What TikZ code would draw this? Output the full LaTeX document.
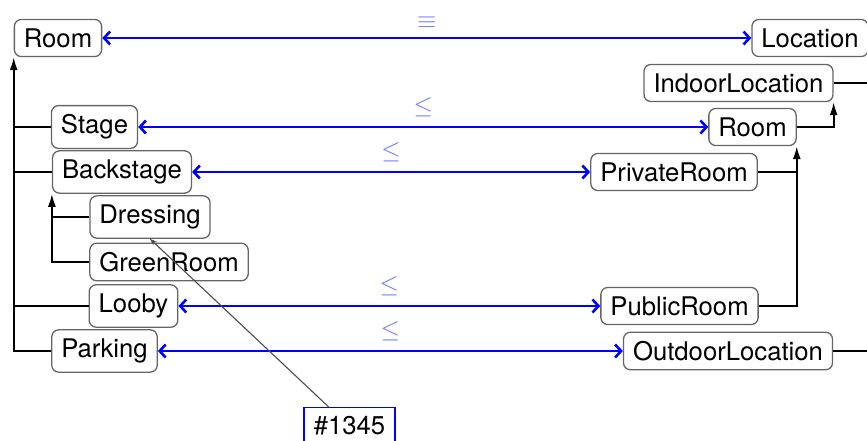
\documentclass[tikz,border=0pt]{standalone}
\usepackage{fontspec}
\setmainfont{TeX Gyre Heros}
\usetikzlibrary{arrows.meta}
\tikzstyle{concept} = [rectangle, rounded corners=7pt, inner xsep=9.5pt, inner ysep=9pt, text centered, draw=black!60, line width=1.3pt, fill=white]
\tikzstyle{ticket} = [rectangle, inner xsep=10pt, inner ysep=9pt, text centered, draw=blue, text=black, line width=1.7pt, fill=white]
\tikzstyle{equiv} = [blue, line width=2.6pt, arrows={Straight Barb[length=6pt,width=13pt]-Straight Barb[length=6pt,width=13pt]}]
\tikzstyle{rel} = [midway, above=5pt, text=blue!55]
\tikzstyle{isa} = [line width=1.8pt, arrows={-Latex[length=13pt,width=8pt]}]
\tikzstyle{branch} = [line width=1.8pt]
\tikzstyle{pointer} = [black!70, line width=1.1pt, arrows={-Stealth[length=7pt,width=5pt]}]

\begin{document}
\begin{tikzpicture}[x=1pt, y=-1pt, node distance=45pt, font=\fontsize{25.7}{30}\selectfont]
    \useasboundingbox (0,0) rectangle (867,440);

    % left hierarchy
    \node (room) [concept] at (58,38) {Room};
    \node (stage) [concept, below of=room, yshift=-44pt, xshift=36.5pt] {Stage};
    \node (backstage) [concept, below of=stage, xshift=27.5pt] {Backstage};
    \node (dressing) [concept, below of=backstage, xshift=28pt] {Dressing};
    \node (greenroom) [concept, below of=dressing, xshift=19pt] {GreenRoom};
    \node (looby) [concept, below of=greenroom, xshift=-35.5pt, yshift=1pt] {Looby};
    \node (parking) [concept, below of=looby, xshift=-29pt] {Parking};

    % right hierarchy
    \node (location) [concept, right of=room, xshift=707pt] {Location};
    \node (indoor) [concept, below of=location, xshift=-71.5pt] {IndoorLocation};
    \node (room2) [concept, below of=indoor, xshift=14pt, yshift=1pt] {Room};
    \node (privateroom) [concept, below of=room2, xshift=-78.5pt] {PrivateRoom};
    \node (publicroom) [concept, below of=privateroom, yshift=-89pt, xshift=5.5pt] {PublicRoom};
    \node (outdoor) [concept, below of=publicroom, xshift=48.5pt] {OutdoorLocation};

    \node (tag1345) [ticket, below of=parking, yshift=-30pt, xshift=245pt] {\#1345};

    \coordinate (outer) at ([xshift=3pt]location.south east);

    % subclass links
    \draw [branch] (stage.west) -- (stage.west -| room.south west);
    \draw [branch] (backstage.west) -- (backstage.west -| room.south west);
    \draw [branch] (looby.west) -- (looby.west -| room.south west);
    \draw [isa] (parking.west) -| (room.south west);
    \draw [branch] (dressing.west) -- (dressing.west -| backstage.south west);
    \draw [isa] (greenroom.west) -| (backstage.south west);
    \draw [isa] (room2.east) -| (indoor.south east);
    \draw [branch] (privateroom.east) -- (privateroom.east -| room2.south east);
    \draw [isa] (publicroom.east) -| (room2.south east);
    \draw [branch] (indoor.east) -- (indoor.east -| outer);
    \draw [isa] (outdoor.east) -| (outer);

    % mappings
    \draw [equiv] (room) -- node [rel] {$\equiv$} (location);
    \draw [equiv] (stage) -- node [rel] {$\leq$} (room2);
    \draw [equiv] (backstage) -- node [rel] {$\leq$} (privateroom);
    \draw [equiv] (looby) -- node [rel] {$\leq$} (publicroom);
    \draw [equiv] (parking) -- node [rel] {$\leq$} (outdoor);

    \draw [pointer] ([xshift=-21pt]tag1345.north) -- (dressing.south);

\end{tikzpicture}
\end{document}
